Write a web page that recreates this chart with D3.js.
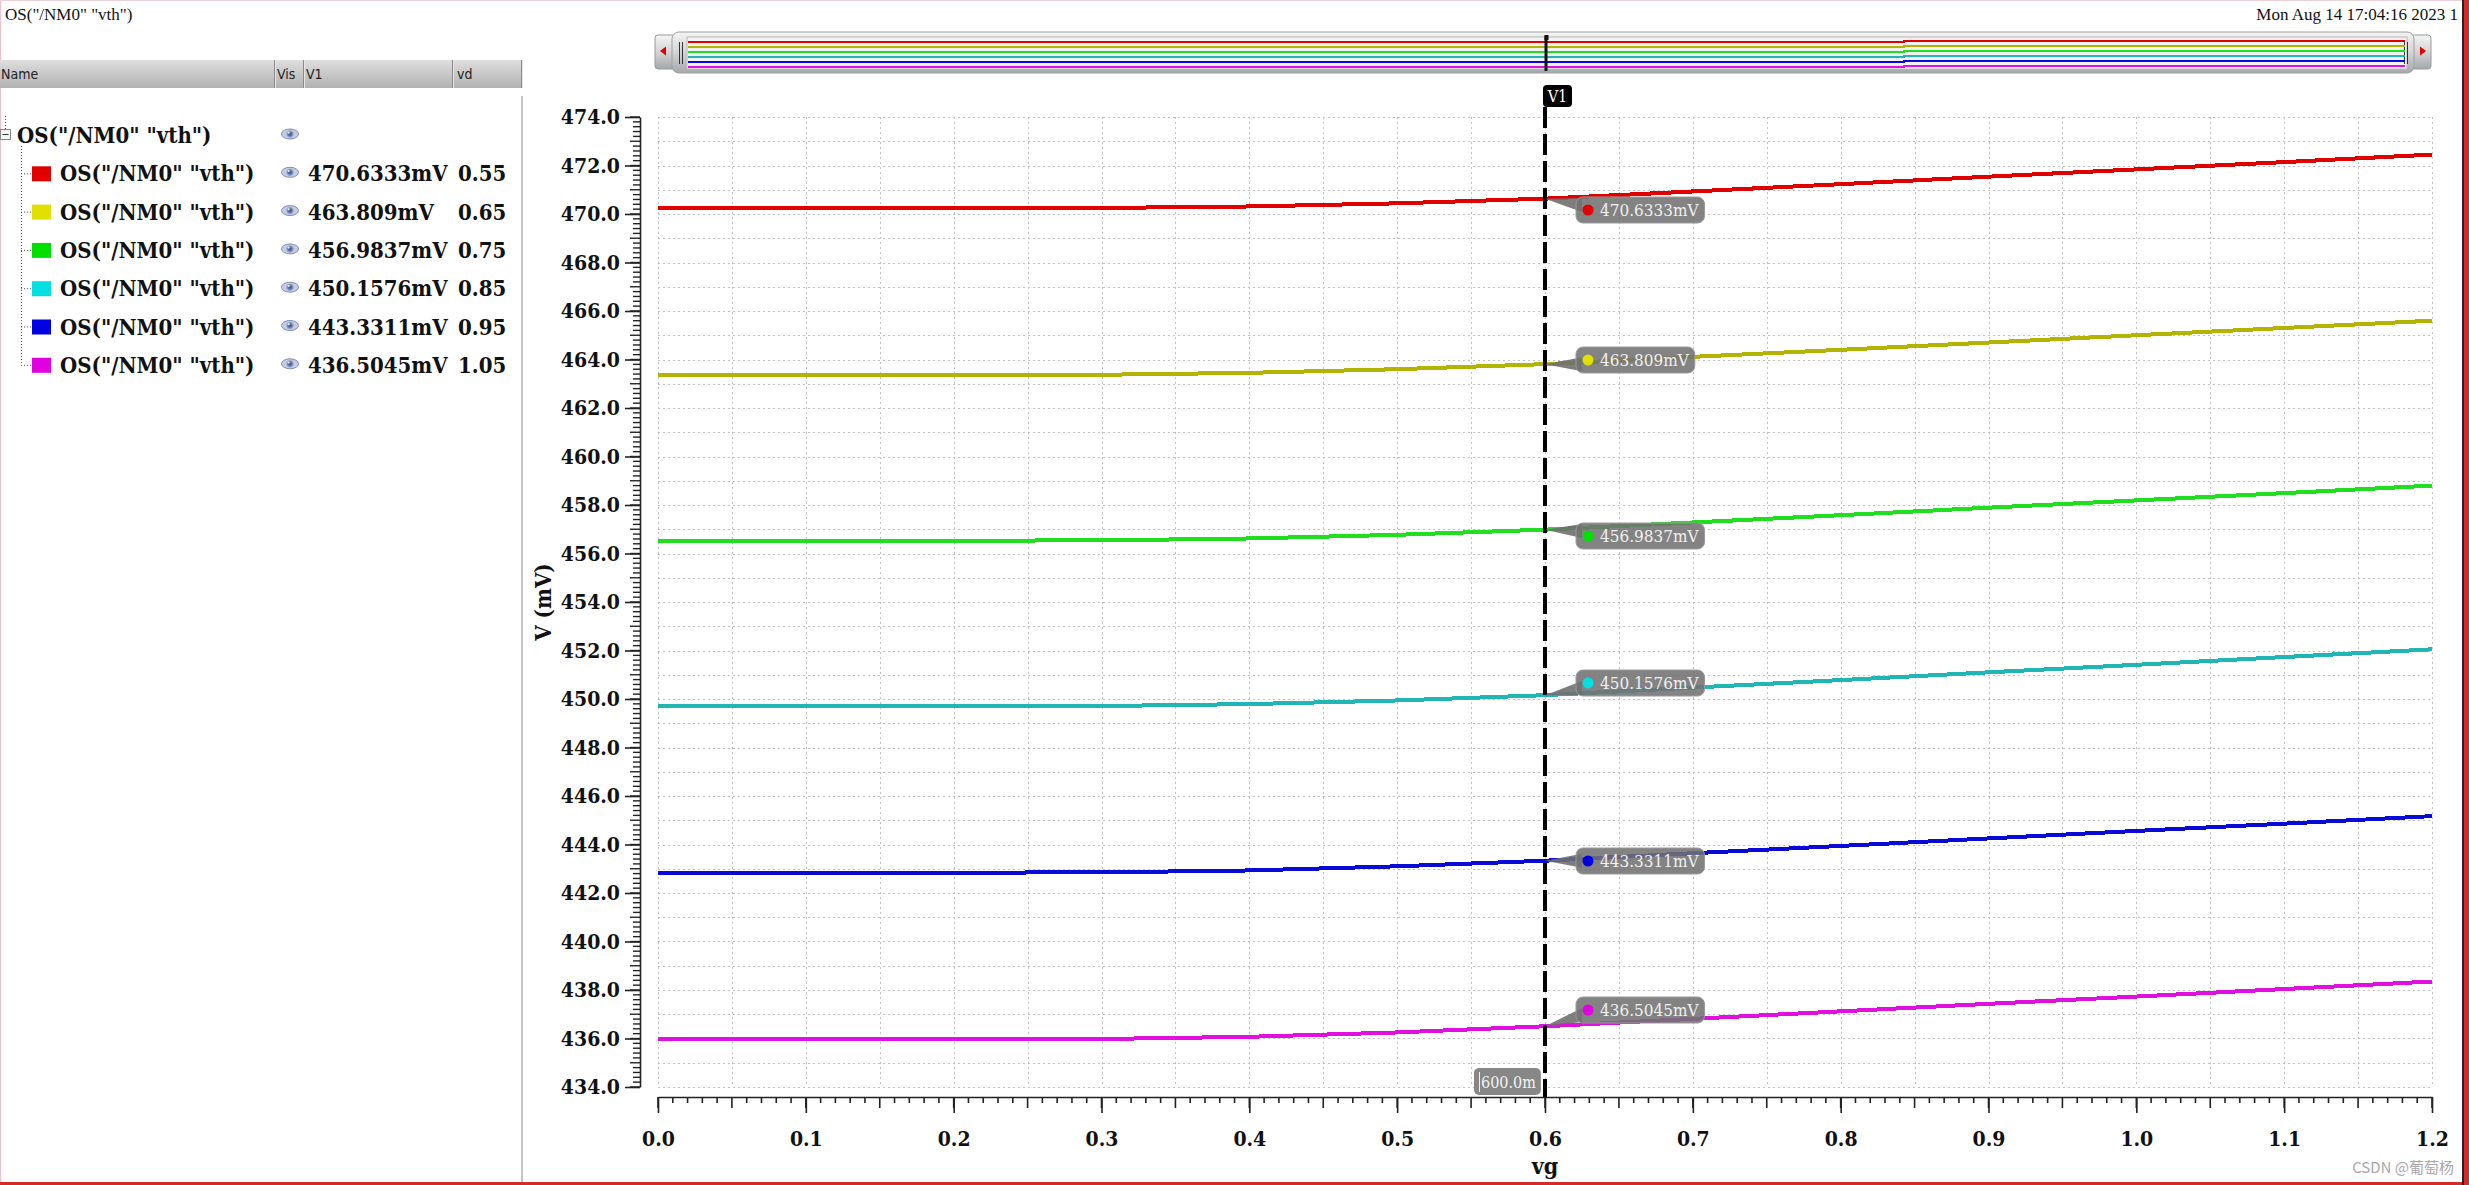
<!DOCTYPE html>
<html><head><meta charset="utf-8">
<script src="https://cdn.jsdelivr.net/npm/d3@7"></script>
<style>
body{margin:0;background:#fff;overflow:hidden}
svg{display:block}
</style>
</head><body>
<svg id="c" width="2469" height="1185"></svg>
<script>
// ---------------- data ----------------
const vg = [0.0, 0.1, 0.2, 0.3, 0.4, 0.5, 0.6, 0.7, 0.8, 0.9, 1.0, 1.1, 1.2];
const vth_vd055 = [470.24, 470.24, 470.24, 470.25, 470.31, 470.44, 470.6333, 470.93, 471.23, 471.54, 471.84, 472.14, 472.45];
const vth_vd065 = [463.36, 463.36, 463.36, 463.37, 463.45, 463.60, 463.809, 464.11, 464.40, 464.70, 465.00, 465.30, 465.60];
const vth_vd075 = [456.53, 456.53, 456.53, 456.54, 456.62, 456.77, 456.9837, 457.28, 457.58, 457.89, 458.19, 458.49, 458.80];
const vth_vd085 = [449.70, 449.70, 449.70, 449.71, 449.79, 449.94, 450.1576, 450.47, 450.78, 451.10, 451.41, 451.73, 452.05];
const vth_vd095 = [442.84, 442.84, 442.84, 442.85, 442.93, 443.10, 443.3311, 443.64, 443.94, 444.25, 444.56, 444.86, 445.17];
const vth_vd105 = [435.97, 435.97, 435.97, 435.98, 436.07, 436.25, 436.5045, 436.81, 437.12, 437.43, 437.73, 438.04, 438.35];
const seriesValues = [vth_vd055, vth_vd065, vth_vd075, vth_vd085, vth_vd095, vth_vd105];
const seriesName = 'OS("/NM0" "vth")';
const vdParams = ["0.55", "0.65", "0.75", "0.85", "0.95", "1.05"];
const cursorVg = 0.6;
const cursorValues = [470.6333, 463.809, 456.9837, 450.1576, 443.3311, 436.5045];
const cursorTexts = ["470.6333mV", "463.809mV", "456.9837mV", "450.1576mV", "443.3311mV", "436.5045mV"];
const cursorXText = "600.0m";
const xTickValues = [0.0, 0.1, 0.2, 0.3, 0.4, 0.5, 0.6, 0.7, 0.8, 0.9, 1.0, 1.1, 1.2];
const yTickValues = [434, 436, 438, 440, 442, 444, 446, 448, 450, 452, 454, 456, 458, 460, 462, 464, 466, 468, 470, 472, 474];
const xTitle = "vg";
const yTitle = "V (mV)";
const windowTitle = 'OS("/NM0" "vth")';
const dateText = "Mon Aug 14 17:04:16 2023  1";
const headerCols = ["Name", "Vis", "V1", "vd"];

// ---------------- styles ----------------
const lineColors = ["#e00000", "#b4b400", "#1fdf1f", "#20b6b6", "#0a0ad8", "#e010e0"];
const swatchColors = ["#e00000", "#e0e000", "#00e000", "#00e0e0", "#0000e0", "#e000e0"];
const calloutShift = [-2, -17, -7, -25, -13, -29];
const serifC = '"DejaVu Serif Condensed","DejaVu Serif",serif';

const svg = d3.select("#c");
svg.append("rect").attr("width", 2469).attr("height", 1185).attr("fill", "#fff");

const defs = svg.append("defs");
const hg = defs.append("linearGradient").attr("id", "hdr").attr("x1", 0).attr("y1", 0).attr("x2", 0).attr("y2", 1);
hg.append("stop").attr("offset", "0").attr("stop-color", "#dedede");
hg.append("stop").attr("offset", "1").attr("stop-color", "#b2b2b2");
const og = defs.append("linearGradient").attr("id", "ovr").attr("x1", 0).attr("y1", 0).attr("x2", 0).attr("y2", 1);
og.append("stop").attr("offset", "0").attr("stop-color", "#f4f4f4");
og.append("stop").attr("offset", "0.5").attr("stop-color", "#d4d4d4");
og.append("stop").attr("offset", "1").attr("stop-color", "#a4a8ac");
const eg = defs.append("radialGradient").attr("id", "eye");
eg.append("stop").attr("offset", "0").attr("stop-color", "#3d4f86");
eg.append("stop").attr("offset", "0.45").attr("stop-color", "#5f70a6");
eg.append("stop").attr("offset", "1").attr("stop-color", "#b9c3dc");

// ---------------- scales ----------------
const x = d3.scaleLinear().domain([0, 1.2]).range([658, 2432]);
const y = d3.scaleLinear().domain([434, 474]).range([1087, 117]);

// ---------------- window frame / title ----------------
svg.append("line").attr("x1", 0.5).attr("x2", 0.5).attr("y1", 0).attr("y2", 1185).attr("stroke", "#e7c6ce").attr("stroke-width", 1.5);
svg.append("line").attr("x1", 0).attr("x2", 2469).attr("y1", 0.5).attr("y2", 0.5).attr("stroke", "#ecd2d8");
svg.append("rect").attr("x", 0).attr("y", 1182).attr("width", 2469).attr("height", 3).attr("fill", "#d42a2a");
svg.append("rect").attr("x", 2462).attr("y", 0).attr("width", 2).attr("height", 1185).attr("fill", "#222");
svg.append("rect").attr("x", 2464).attr("y", 0).attr("width", 5).attr("height", 1185).attr("fill", "#d42a2a");

svg.append("text").attr("x", 5).attr("y", 20).attr("font-family", '"Liberation Serif",serif')
  .attr("font-size", 17).attr("fill", "#111").text(windowTitle);
svg.append("text").attr("x", 2458).attr("y", 20).attr("text-anchor", "end").attr("font-family", '"Liberation Serif",serif')
  .attr("font-size", 17).attr("fill", "#111").text(dateText);

// ---------------- left panel ----------------
svg.append("rect").attr("x", 0).attr("y", 60).attr("width", 522).attr("height", 28).attr("fill", "url(#hdr)");
[274, 303, 452, 521].forEach(sx => {
  svg.append("line").attr("x1", sx + 0.5).attr("x2", sx + 0.5).attr("y1", 60).attr("y2", 88).attr("stroke", "#8a8a8a");
  svg.append("line").attr("x1", sx + 1.5).attr("x2", sx + 1.5).attr("y1", 60).attr("y2", 88).attr("stroke", "#e6e6e6");
});
const hdrX = [1, 277, 306, 457];
headerCols.forEach((t, i) => {
  svg.append("text").attr("x", hdrX[i]).attr("y", 79).attr("font-family", '"DejaVu Sans",sans-serif')
    .attr("font-stretch", "condensed").attr("font-size", 14).attr("fill", "#222").text(t);
});
svg.append("rect").attr("x", 521).attr("y", 96).attr("width", 2).attr("height", 1086).attr("fill", "#c4c4c4");

const rowY = i => 135 + 38.3 * i;
const tree = svg.append("g").attr("stroke", "#555").attr("stroke-dasharray", "1,2").attr("fill", "none");
tree.append("line").attr("x1", 5.5).attr("x2", 5.5).attr("y1", 116).attr("y2", 129);
tree.append("line").attr("x1", 21.5).attr("x2", 21.5).attr("y1", 146).attr("y2", rowY(6));
seriesValues.forEach((s, i) => {
  tree.append("line").attr("x1", 21).attr("x2", 31).attr("y1", rowY(i + 1) + 0.5).attr("y2", rowY(i + 1) + 0.5);
});
svg.append("rect").attr("x", 0.5).attr("y", 129.5).attr("width", 10).attr("height", 10).attr("fill", "#f4f4f4").attr("stroke", "#888");
svg.append("line").attr("x1", 2.5).attr("x2", 8.5).attr("y1", 134.5).attr("y2", 134.5).attr("stroke", "#333");

function eye(cx, cy) {
  const g = svg.append("g");
  g.append("ellipse").attr("cx", cx).attr("cy", cy).attr("rx", 8.5).attr("ry", 5).attr("fill", "#c5cde3").attr("stroke", "#8290b8").attr("stroke-width", 1);
  g.append("circle").attr("cx", cx).attr("cy", cy).attr("r", 4).attr("fill", "url(#eye)");
  g.append("circle").attr("cx", cx - 1.3).attr("cy", cy - 1.3).attr("r", 1.1).attr("fill", "#e8ecf6");
}
const legendFont = serifC;
const legendSize = 22;
svg.append("text").attr("x", 17).attr("y", rowY(0) + 8).attr("font-family", legendFont).attr("font-stretch", "condensed")
  .attr("font-weight", "bold").attr("font-size", legendSize).attr("fill", "#111").text(seriesName);
eye(290, rowY(0) - 1);
seriesValues.forEach((s, i) => {
  const cy = rowY(i + 1);
  svg.append("rect").attr("x", 32).attr("y", cy - 7).attr("width", 19).attr("height", 15).attr("fill", swatchColors[i]);
  svg.append("text").attr("x", 60).attr("y", cy + 8).attr("font-family", legendFont).attr("font-stretch", "condensed")
    .attr("font-weight", "bold").attr("font-size", legendSize).attr("fill", "#111").text(seriesName);
  eye(290, cy - 1);
  svg.append("text").attr("x", 308).attr("y", cy + 8).attr("font-family", legendFont).attr("font-stretch", "condensed")
    .attr("font-weight", "bold").attr("font-size", legendSize).attr("fill", "#111").text(cursorTexts[i]);
  svg.append("text").attr("x", 458).attr("y", cy + 8).attr("font-family", legendFont).attr("font-stretch", "condensed")
    .attr("font-weight", "bold").attr("font-size", legendSize).attr("fill", "#111").text(vdParams[i]);
});

// ---------------- overview strip ----------------
const xo = d3.scaleLinear().domain([0, 1.2]).range([688, 2405]);
const yo = d3.scaleLinear().domain([434, 474]).range([67.8, 38.5]);
svg.append("rect").attr("x", 655).attr("y", 35).attr("width", 20).attr("height", 34).attr("rx", 3).attr("fill", "url(#ovr)").attr("stroke", "#9a9a9a");
svg.append("rect").attr("x", 2411).attr("y", 35).attr("width", 20).attr("height", 34).attr("rx", 3).attr("fill", "url(#ovr)").attr("stroke", "#9a9a9a");
svg.append("rect").attr("x", 672).attr("y", 32).attr("width", 1742).attr("height", 41).attr("rx", 7).attr("fill", "url(#ovr)").attr("stroke", "#a0a0a0");
svg.append("rect").attr("x", 687).attr("y", 37).attr("width", 1720).attr("height", 32).attr("fill", "#f2f2f2").attr("stroke", "#b8b8b8");
svg.append("path").attr("d", "M660,51 L666,46.5 L666,55.5 Z").attr("fill", "#e00000");
svg.append("path").attr("d", "M2426,51 L2420,46.5 L2420,55.5 Z").attr("fill", "#e00000");
[679, 682, 2404, 2407].forEach(gx => {
  svg.append("line").attr("x1", gx + 0.5).attr("x2", gx + 0.5).attr("y1", 42).attr("y2", 64).attr("stroke", "#333").attr("stroke-width", 1);
});
const ovLine = d3.line().x((d, i) => xo(vg[i])).y(d => Math.round(yo(d)) + 0.5).curve(d3.curveStep);
seriesValues.forEach((s, i) => {
  svg.append("path").attr("d", ovLine(s)).attr("fill", "none").attr("stroke", lineColors[i]).attr("stroke-width", 2)
    .attr("shape-rendering", "crispEdges");
});
svg.append("rect").attr("x", xo(cursorVg) - 2).attr("y", 36).attr("width", 3).attr("height", 35).attr("fill", "#111");
svg.append("rect").attr("x", xo(cursorVg) - 2).attr("y", 35).attr("width", 4).attr("height", 5).attr("fill", "#111");

// ---------------- grid ----------------
const grid = svg.append("g").attr("stroke", "#c2c2c2").attr("stroke-width", 1).attr("stroke-dasharray", "2,3");
grid.selectAll("line.v").data(x.ticks(24)).join("line")
  .attr("x1", d => Math.round(x(d)) + 0.5).attr("x2", d => Math.round(x(d)) + 0.5).attr("y1", y(474)).attr("y2", y(434));
grid.selectAll("line.h").data(y.ticks(40)).join("line")
  .attr("y1", d => Math.round(y(d)) + 0.5).attr("y2", d => Math.round(y(d)) + 0.5).attr("x1", x(0)).attr("x2", x(1.2));

// ---------------- axes ----------------
const axisFont = g => g.selectAll("text").attr("font-family", serifC).attr("font-stretch", "condensed")
  .attr("font-weight", "bold").attr("font-size", 21).attr("fill", "#111");
const xAxisG = svg.append("g").attr("transform", "translate(0,1097)");
xAxisG.call(d3.axisBottom(x).tickValues(xTickValues).tickSize(16).tickSizeOuter(0).tickPadding(18).tickFormat(d3.format(".1f")));
xAxisG.call(axisFont);
xAxisG.selectAll("path,line").attr("stroke", "#222").attr("stroke-width", 1.6);
const xMinor = svg.append("g").attr("transform", "translate(0,1097)").attr("stroke", "#222").attr("stroke-width", 1.6);
xMinor.selectAll("line").data(x.ticks(120)).join("line")
  .attr("x1", d => x(d)).attr("x2", d => x(d)).attr("y1", 0).attr("y2", d => (Math.round(d * 100) % 5 === 0 ? 11 : 6));

const yAxisG = svg.append("g").attr("transform", "translate(640,0)");
yAxisG.call(d3.axisLeft(y).tickValues(yTickValues).tickSize(15).tickSizeOuter(0).tickPadding(5).tickFormat(d3.format(".1f")));
yAxisG.call(axisFont);
yAxisG.selectAll("path,line").attr("stroke", "#222").attr("stroke-width", 1.6);
const yMinor = svg.append("g").attr("transform", "translate(640,0)").attr("stroke", "#222").attr("stroke-width", 1.4);
yMinor.selectAll("line").data(y.ticks(200)).join("line")
  .attr("y1", d => y(d)).attr("y2", d => y(d)).attr("x1", 0).attr("x2", d => (Math.abs(Math.round(d * 5) % 5) === 0 ? -10 : -7));

svg.append("text").attr("x", (x(0) + x(1.2)) / 2).attr("y", 1174).attr("text-anchor", "middle")
  .attr("font-family", serifC).attr("font-stretch", "condensed").attr("font-weight", "bold").attr("font-size", 23).attr("fill", "#111").text(xTitle);
svg.append("text").attr("transform", `translate(551,${(y(434) + y(474)) / 2}) rotate(-90)`).attr("text-anchor", "middle")
  .attr("font-family", serifC).attr("font-stretch", "condensed").attr("font-weight", "bold").attr("font-size", 22).attr("fill", "#111").text(yTitle);

// ---------------- series ----------------
const line = d3.line().x((d, i) => x(vg[i])).y(d => y(d));
seriesValues.forEach((s, i) => {
  svg.append("path").attr("d", line(s)).attr("fill", "none").attr("stroke", lineColors[i]).attr("stroke-width", 4)
    .attr("shape-rendering", "crispEdges");
});

// ---------------- cursor ----------------
const cx = x(cursorVg);
svg.append("line").attr("x1", cx).attr("x2", cx).attr("y1", 107).attr("y2", 1097).attr("stroke", "#000")
  .attr("stroke-width", 4).attr("stroke-dasharray", "21,6");
svg.append("rect").attr("x", cx - 2).attr("y", 85).attr("width", 29).attr("height", 22).attr("rx", 4).attr("fill", "#000");
svg.append("text").attr("x", cx + 12.5).attr("y", 102).attr("text-anchor", "middle").attr("font-family", serifC)
  .attr("font-stretch", "condensed").attr("font-size", 16).attr("fill", "#fff").text("V1");

// x cursor label
const xl = svg.append("g");
const xlt = xl.append("text").attr("x", 1481).attr("y", 1088).attr("font-family", serifC).attr("font-stretch", "condensed")
  .attr("font-size", 16).attr("fill", "#f4f4f4").text(cursorXText);
const xlw = xlt.node().getComputedTextLength();
xl.insert("rect", "text").attr("x", 1474).attr("y", 1068).attr("width", xlw + 12).attr("height", 27).attr("rx", 5)
  .attr("fill", "#7a7a7a").attr("fill-opacity", 0.9);
xl.append("line").attr("x1", 1479.5).attr("x2", 1479.5).attr("y1", 1072).attr("y2", 1092).attr("stroke", "#eee");

// callouts
seriesValues.forEach((s, i) => {
  const yi = y(cursorValues[i]);
  const top = Math.round(yi + calloutShift[i]);
  const bx = 1576, h = 26;
  const g = svg.append("g");
  const t = g.append("text").attr("x", bx + 24).attr("y", top + 19).attr("font-family", serifC).attr("font-stretch", "condensed")
    .attr("font-size", 17).attr("fill", "#f0f0f0").text(cursorTexts[i]);
  const w = t.node().getComputedTextLength() + 30;
  const mid = Math.max(top + 8, Math.min(top + h - 8, yi));
  g.insert("path", "text").attr("d", `M${cx},${yi} L${bx + 6},${mid - 7} L${bx + 6},${mid + 7} Z`).attr("fill", "#6f6f6f").attr("fill-opacity", 0.9);
  g.insert("rect", "text").attr("x", bx).attr("y", top).attr("width", w).attr("height", h).attr("rx", 7)
    .attr("fill", "#727272").attr("fill-opacity", 0.88).attr("stroke", "#9a9a9a").attr("stroke-width", 1);
  g.insert("circle", "text").attr("cx", bx + 12).attr("cy", top + 13).attr("r", 5.5).attr("fill", swatchColors[i]);
});

// watermark
svg.append("text").attr("x", 2454).attr("y", 1173).attr("text-anchor", "end").attr("font-family", '"Noto Sans CJK SC","Noto Sans",sans-serif')
  .attr("font-size", 15).attr("fill", "#a8a8a8").text("CSDN @葡萄杨");
</script>
</body></html>
